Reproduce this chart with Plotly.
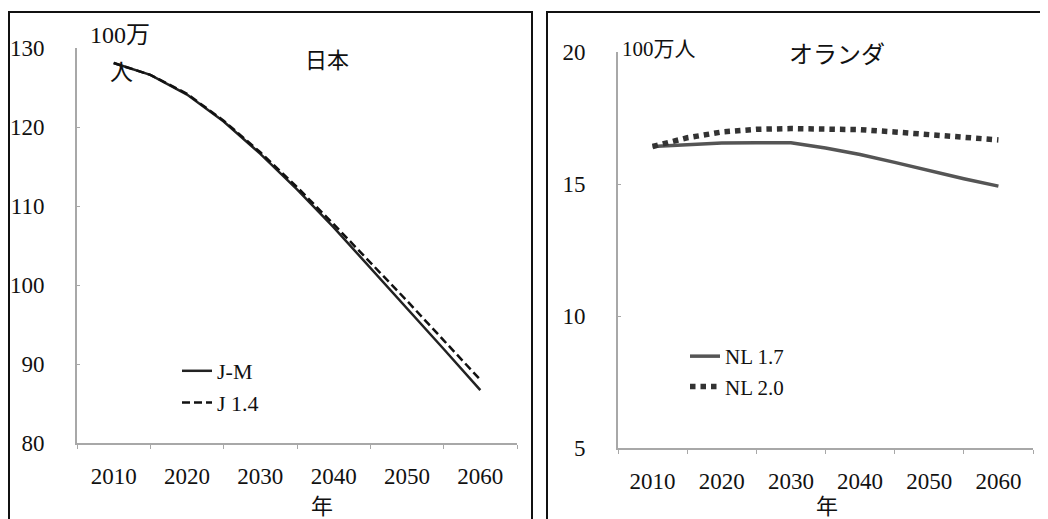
import plotly.graph_objects as go

W, H = 1048, 519

# ---------------- data ----------------
years = [2010, 2015, 2020, 2025, 2030, 2035, 2040, 2045, 2050, 2055, 2060]
jp_jm = [128.1, 126.6, 124.1, 120.7, 116.6, 112.1, 107.3, 102.2, 97.1, 91.9, 86.7]
jp_14 = [128.1, 126.6, 124.2, 120.8, 116.8, 112.4, 107.7, 102.9, 98.0, 93.0, 88.0]
nl_17 = [16.42, 16.5, 16.55, 16.56, 16.56, 16.36, 16.12, 15.82, 15.5, 15.2, 14.92]
nl_20 = [16.42, 16.75, 16.97, 17.07, 17.1, 17.1, 17.06, 16.97, 16.86, 16.76, 16.67]
x_ticks = [2010, 2020, 2030, 2040, 2050, 2060]
x_bounds = [2005, 2015, 2025, 2035, 2045, 2055, 2065]

SERIF = "Liberation Serif, Times New Roman, Times, serif"
CJK = "Noto Sans CJK JP"

OFF = 8  # page body margin


def px(x):
    return (x - OFF) / W


def py(y):
    return 1 - (y - OFF) / H


fig = go.Figure()

fig.add_trace(go.Scatter(x=years, y=jp_jm, name="J-M", mode="lines",
                         line=dict(color="#222222", width=2.5),
                         xaxis="x", yaxis="y", legend="legend"))
fig.add_trace(go.Scatter(x=years, y=jp_14, name="J 1.4", mode="lines",
                         line=dict(color="#111111", width=2.5, dash="8px,4px"),
                         xaxis="x", yaxis="y", legend="legend"))
fig.add_trace(go.Scatter(x=years, y=nl_17, name="NL 1.7", mode="lines",
                         line=dict(color="#555555", width=3.5),
                         xaxis="x2", yaxis="y2", legend="legend2"))
fig.add_trace(go.Scatter(x=years, y=nl_20, name="NL 2.0", mode="lines",
                         line=dict(color="#333333", width=5.5, dash="5.5px,5px"),
                         xaxis="x2", yaxis="y2", legend="legend2"))

axis_common = dict(showgrid=False, zeroline=False, showline=True,
                   linecolor="#a8a8a8", linewidth=2,
                   tickfont=dict(family=SERIF, size=23, color="#111"))

xcommon = dict(axis_common, range=[2005, 2065], tickvals=x_ticks,
               ticktext=[str(v) for v in x_ticks], ticks="",
               ticklabelstandoff=11,
               minor=dict(tickvals=x_bounds, ticks="outside", ticklen=4,
                          tickcolor="#a8a8a8", tickwidth=1))

fig.update_layout(
    width=W, height=H,
    margin=dict(l=0, r=0, t=0, b=0, autoexpand=False),
    paper_bgcolor="white", plot_bgcolor="white",
    font=dict(family=SERIF, color="#111"),
    showlegend=True,
    xaxis=dict(xcommon, domain=[px(77), px(517)], anchor="y"),
    yaxis=dict(axis_common, domain=[py(443), py(48)], anchor="x",
               range=[80, 130], dtick=10, ticks="inside", ticklen=3,
               tickcolor="#a8a8a8", ticklabelstandoff=26),
    xaxis2=dict(xcommon, domain=[px(618), px(1033)], anchor="y2"),
    yaxis2=dict(axis_common, domain=[py(448), py(52)], anchor="x2",
                range=[5, 20], dtick=5, ticks="inside", ticklen=3,
                tickcolor="#a8a8a8", ticklabelstandoff=26),
    legend=dict(x=px(177), y=py(350), xanchor="left", yanchor="top",
                bgcolor="rgba(0,0,0,0)",
                font=dict(family=SERIF, size=22, color="#111")),
    legend2=dict(x=px(685), y=py(336), xanchor="left", yanchor="top",
                 bgcolor="rgba(0,0,0,0)",
                 font=dict(family=SERIF, size=21, color="#111")),
)

# panel frames
fig.add_shape(type="rect", xref="paper", yref="paper",
              x0=px(9), x1=px(532), y0=-0.05, y1=py(12),
              line=dict(color="#111", width=2), layer="below")
fig.add_shape(type="rect", xref="paper", yref="paper",
              x0=px(547), x1=1.05, y0=-0.05, y1=py(12),
              line=dict(color="#111", width=2), layer="below")


def note(text, x, y, size=22, xanchor="center", family=SERIF):
    fig.add_annotation(text=text, x=px(x), y=py(y), xref="paper", yref="paper",
                       xanchor=xanchor, yanchor="middle", showarrow=False,
                       font=dict(family=family, size=size, color="#111"))


note("(a)", 30, -7, size=22)
note("100<span style='font-family:Noto Sans CJK JP'>万</span>", 88, 33, size=24, xanchor="left")
note("人", 121, 70, size=23, family=CJK)
note("日本", 327, 58, size=22, family=CJK)
note("100<span style='font-family:Noto Sans CJK JP'>万人</span>", 620, 47, size=21, xanchor="left")
note("オランダ", 837, 52, size=24, family=CJK)
note("年", 322, 504, size=22, family=CJK)
note("年", 827, 504, size=22, family=CJK)

fig.write_html("out.html")
